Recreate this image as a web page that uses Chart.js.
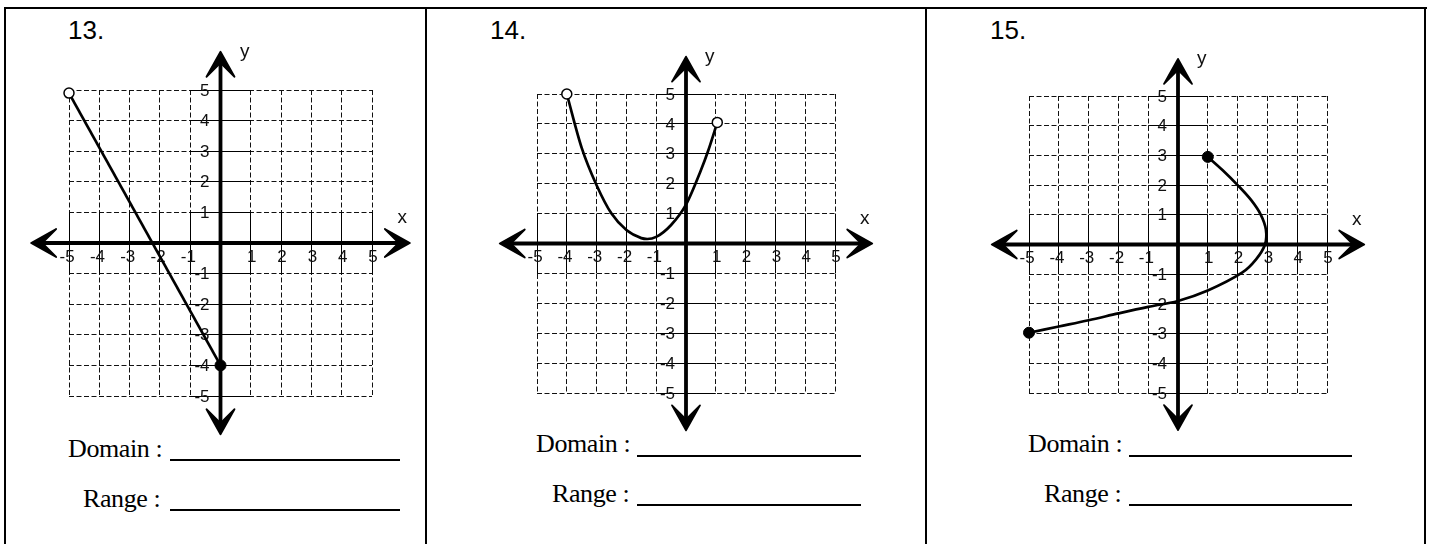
<!DOCTYPE html>
<html>
<head>
<meta charset="utf-8">
<script src="https://cdn.jsdelivr.net/npm/chart.js@4.4.1/dist/chart.umd.min.js"></script>
<style>
html, body { margin: 0; padding: 0; background: #fff; }
body { width: 1433px; height: 544px; position: relative; overflow: hidden; }
canvas { position: absolute; left: 0; top: 0; }
.ln { position: absolute; background: #000; }
.num { position: absolute; font-family: 'Liberation Sans', Arial, sans-serif; font-size: 26px; line-height: 26px; color: #000; }
.lbl { position: absolute; font-family: 'Liberation Serif', 'Times New Roman', serif; font-size: 26px; line-height: 26px; letter-spacing: -0.4px; color: #000; white-space: pre; }
.ul { position: absolute; height: 1.5px; background: #000; }
</style>
</head>
<body>
<!-- worksheet frame -->
<div class="ln" style="left:4px;top:7px;width:1423px;height:2px"></div>
<div class="ln" style="left:4px;top:7px;width:2px;height:540px"></div>
<div class="ln" style="left:425px;top:7px;width:2px;height:540px"></div>
<div class="ln" style="left:925px;top:7px;width:2px;height:540px"></div>
<div class="ln" style="left:1424px;top:7px;width:2px;height:540px"></div>

<div class="num" id="n0" style="left:68px;top:17px"></div>
<div class="num" id="n1" style="left:490px;top:17px"></div>
<div class="num" id="n2" style="left:990px;top:17px"></div>

<div class="lbl" style="left:68px;top:436px">Domain :</div>
<div class="ul" style="left:170px;top:459px;width:230px"></div>
<div class="lbl" style="left:83px;top:486px">Range :</div>
<div class="ul" style="left:170px;top:509px;width:230px"></div>

<div class="lbl" style="left:536px;top:431px">Domain :</div>
<div class="ul" style="left:637px;top:455px;width:224px"></div>
<div class="lbl" style="left:552px;top:481px">Range :</div>
<div class="ul" style="left:637px;top:504px;width:224px"></div>

<div class="lbl" style="left:1028px;top:431px">Domain :</div>
<div class="ul" style="left:1129px;top:455px;width:223px"></div>
<div class="lbl" style="left:1044px;top:481px">Range :</div>
<div class="ul" style="left:1129px;top:504px;width:223px"></div>

<canvas id="c13" width="1433" height="544"></canvas>
<canvas id="c14" width="1433" height="544"></canvas>
<canvas id="c15" width="1433" height="544"></canvas>

<script>
const problemNumbers = ['13.', '14.', '15.'];

const xTickValues = [-5, -4, -3, -2, -1, 1, 2, 3, 4, 5];
const xTickLabels = ['-5', '-4', '-3', '-2', '-1', '1', '2', '3', '4', '5'];
const yTickValues = [5, 4, 3, 2, 1, -1, -2, -3, -4, -5];
const yTickLabels = ['5', '4', '3', '2', '1', '-1', '-2', '-3', '-4', '-5'];

// 13. straight line, open at top-left, closed on the y axis
const curve13X = [-5, 0];
const curve13Y = [4.9, -4];
const open13X = [-5];
const open13Y = [4.9];
const closed13X = [0];
const closed13Y = [-4];

// 14. parabola, open at both ends
const curve14X = [-4, -3.5, -3, -2.5, -2, -1.5, -1.3, -1, -0.5, 0, 0.5, 0.75, 1.05];
const curve14Y = [5, 3.2, 1.95, 1.0, 0.45, 0.18, 0.15, 0.22, 0.62, 1.3, 2.45, 3.12, 4.05];
const open14X = [-4, 1.05];
const open14Y = [5, 4.05];

// 15. sideways curve, closed at both ends (points in drawing order)
const curve15X = [1, 1.5, 2.0, 2.45, 2.78, 2.95, 2.92, 2.62, 2.15, 1, 0, -1, -2, -3, -4, -5];
const curve15Y = [2.95, 2.5, 2.0, 1.5, 1.0, 0.5, 0, -0.5, -0.95, -1.55, -1.9, -2.1, -2.32, -2.55, -2.76, -2.97];
const closed15X = [1, -5];
const closed15Y = [2.95, -2.97];

problemNumbers.forEach((t, i) => { document.getElementById('n' + i).textContent = t; });

const pts = (xs, ys) => xs.map((x, i) => ({ x: x, y: ys[i] }));

// axes with arrowheads, solid tick segments and the number labels
const axesPlugin = {
  id: 'coordAxes',
  beforeDatasetsDraw(chart) {
    const ctx = chart.ctx;
    const sx = chart.scales.x, sy = chart.scales.y;
    const px = v => sx.getPixelForValue(v);
    const py = v => sy.getPixelForValue(v);
    const al = p => Math.round(p - 0.5) + 0.5;
    const ext = 6.25;
    const ox = px(0), oy = py(0);

    ctx.save();
    ctx.strokeStyle = '#000';
    ctx.lineWidth = 1;
    ctx.beginPath();
    for (let k = -5; k <= 5; k++) {
      if (k === 0) continue;
      const X = al(px(k));
      ctx.moveTo(X, py(1)); ctx.lineTo(X, py(-1));
      const Y = al(py(k));
      ctx.moveTo(px(-1), Y); ctx.lineTo(px(1), Y);
    }
    ctx.stroke();

    // arrows
    const L = 25, W = 14, N = 11;
    const head = (tx, ty, dx, dy) => {
      const qx = -dy, qy = dx;
      ctx.beginPath();
      ctx.moveTo(tx, ty);
      ctx.lineTo(tx - dx * L + qx * W, ty - dy * L + qy * W);
      ctx.lineTo(tx - dx * N, ty - dy * N);
      ctx.lineTo(tx - dx * L - qx * W, ty - dy * L - qy * W);
      ctx.closePath();
      ctx.fill();
      ctx.stroke();
    };
    ctx.strokeStyle = '#000';
    ctx.fillStyle = '#000';
    ctx.lineWidth = 3.8;
    ctx.beginPath();
    ctx.moveTo(px(-ext) + N, oy); ctx.lineTo(px(ext) - N, oy);
    ctx.moveTo(ox, py(ext) + N); ctx.lineTo(ox, py(-ext) - N);
    ctx.stroke();
    ctx.lineWidth = 1.8;
    ctx.lineJoin = 'round';
    head(px(ext), oy, 1, 0);
    head(px(-ext), oy, -1, 0);
    head(ox, py(ext), 0, -1);
    head(ox, py(-ext), 0, 1);

    // tick labels
    ctx.fillStyle = '#111';
    ctx.font = '17px "Liberation Sans", Arial, sans-serif';
    ctx.textBaseline = 'middle';
    ctx.textAlign = 'right';
    xTickValues.forEach((v, i) => {
      const lab = xTickLabels[i];
      const w = ctx.measureText(lab.replace('-', '')).width;
      ctx.fillText(lab, px(v) + 1 + w / 2, oy + 14);
    });
    yTickValues.forEach((v, i) => {
      ctx.fillText(yTickLabels[i], ox - 11, py(v) + 1);
    });

    // axis names
    ctx.fillStyle = '#111';
    ctx.font = '19px "Liberation Sans", Arial, sans-serif';
    ctx.textAlign = 'center';
    ctx.textBaseline = 'alphabetic';
    ctx.fillText('x', px(6.0), py(0.66));
    ctx.fillText('y', px(0.8), py(6.07));
    ctx.restore();
  }
};

const gridScale = () => ({
  type: 'linear',
  min: -5,
  max: 5,
  ticks: { display: false, stepSize: 1 },
  grid: { color: '#111', lineWidth: 1, drawTicks: false },
  border: { display: false, dash: [5, 2.5] }
});

function makePanel(id, pad, datasets) {
  return new Chart(document.getElementById(id), {
    type: 'scatter',
    data: { datasets: datasets },
    options: {
      responsive: false,
      animation: false,
      events: [],
      layout: { padding: pad },
      plugins: { legend: { display: false }, tooltip: { enabled: false } },
      scales: { x: gridScale(), y: gridScale() }
    },
    plugins: [axesPlugin]
  });
}

const curveSet = (xs, ys, tension, mode) => ({
  data: pts(xs, ys), showLine: true, borderColor: '#000', borderWidth: 2.7,
  pointRadius: 0, tension: tension, cubicInterpolationMode: mode || 'default',
  fill: false, clip: false
});
const openSet = (xs, ys) => ({
  data: pts(xs, ys), pointRadius: 5, pointBackgroundColor: '#fff',
  pointBorderColor: '#000', pointBorderWidth: 1.5, clip: false
});
const closedSet = (xs, ys) => ({
  data: pts(xs, ys), pointRadius: 5.5, pointBackgroundColor: '#000',
  pointBorderColor: '#000', pointBorderWidth: 1, clip: false
});

makePanel('c13', { left: 69, right: 1061, top: 90, bottom: 148 }, [
  openSet(open13X, open13Y),
  closedSet(closed13X, closed13Y),
  curveSet(curve13X, curve13Y, 0)
]);

makePanel('c14', { left: 537, right: 598, top: 94, bottom: 151 }, [
  openSet(open14X, open14Y),
  curveSet(curve14X, curve14Y, 0.4, 'monotone')
]);

makePanel('c15', { left: 1029, right: 106, top: 96, bottom: 151 }, [
  closedSet(closed15X, closed15Y),
  curveSet(curve15X, curve15Y, 0.35)
]);
</script>
</body>
</html>
